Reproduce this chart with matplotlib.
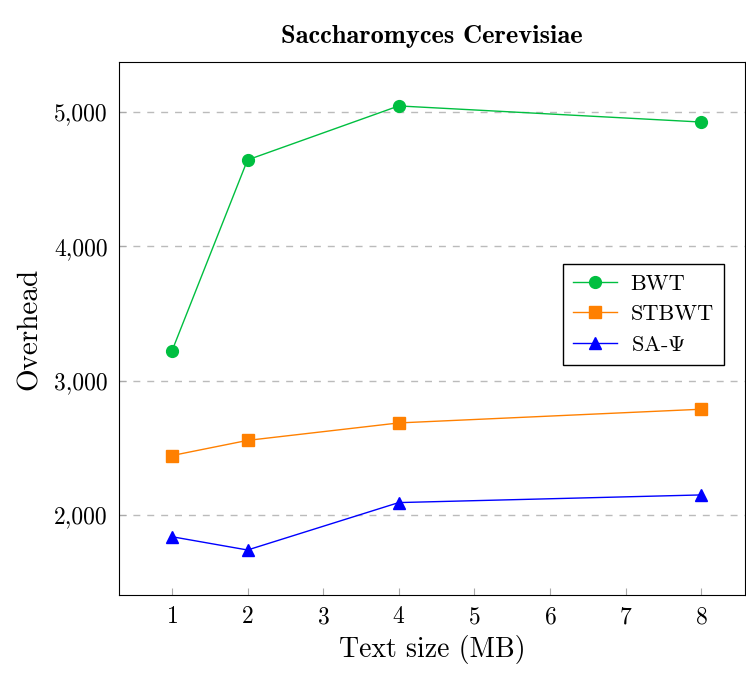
import matplotlib
matplotlib.use("Agg")
import matplotlib.pyplot as plt
from matplotlib.ticker import FuncFormatter

text_size = [1, 2, 4, 8]
bwt = [3220, 4643, 5045, 4925]
stbwt = [2442, 2555, 2685, 2787]
sa_psi = [1838, 1739, 2092, 2149]

plt.rcParams['font.family'] = 'serif'
plt.rcParams['font.serif'] = ['cmr10']
plt.rcParams['mathtext.fontset'] = 'cm'
plt.rcParams['axes.formatter.use_mathtext'] = True

fig = plt.figure(figsize=(7.46, 6.74), dpi=100)
ax = fig.add_axes([119 / 746, 79 / 674, 626 / 746, 533 / 674])

ax.plot(text_size, bwt, color='#00bf40', marker='o', markersize=8.5, linewidth=1, label='BWT')
ax.plot(text_size, stbwt, color='#ff8000', marker='s', markersize=8, linewidth=1, label='STBWT')
ax.plot(text_size, sa_psi, color='#0000ff', marker='^', markersize=8, linewidth=1, label=r'SA-$\Psi$')

ax.set_xlim(0.3, 8.58)
ax.set_ylim(1404, 5372)
ax.set_xticks(range(1, 9))
ax.set_yticks([2000, 3000, 4000, 5000])
ax.yaxis.set_major_formatter(FuncFormatter(lambda v, p: f'{int(v):,}'))
ax.tick_params(direction='in', length=5, color='#aaaaaa', labelsize=17, pad=8)
ax.grid(axis='y', linestyle=(0, (5, 5)), color='#bbbbbb', linewidth=1)
ax.set_axisbelow(True)

ax.set_xlabel('Text size (MB)', fontsize=20, labelpad=5)
ax.set_ylabel('Overhead', fontsize=21, labelpad=8)
ax.set_title('Saccharomyces Cerevisiae', fontsize=19, fontfamily='cmb10', pad=14)

leg = ax.legend(loc='upper left', bbox_to_anchor=(0.709, 0.621),
                fontsize=16, fancybox=False, edgecolor='black', framealpha=1,
                handlelength=2.0, handletextpad=0.6, borderpad=0.45,
                labelspacing=0.5, borderaxespad=0)
leg.get_frame().set_linewidth(1)

fig.savefig('out.png', dpi=100)
